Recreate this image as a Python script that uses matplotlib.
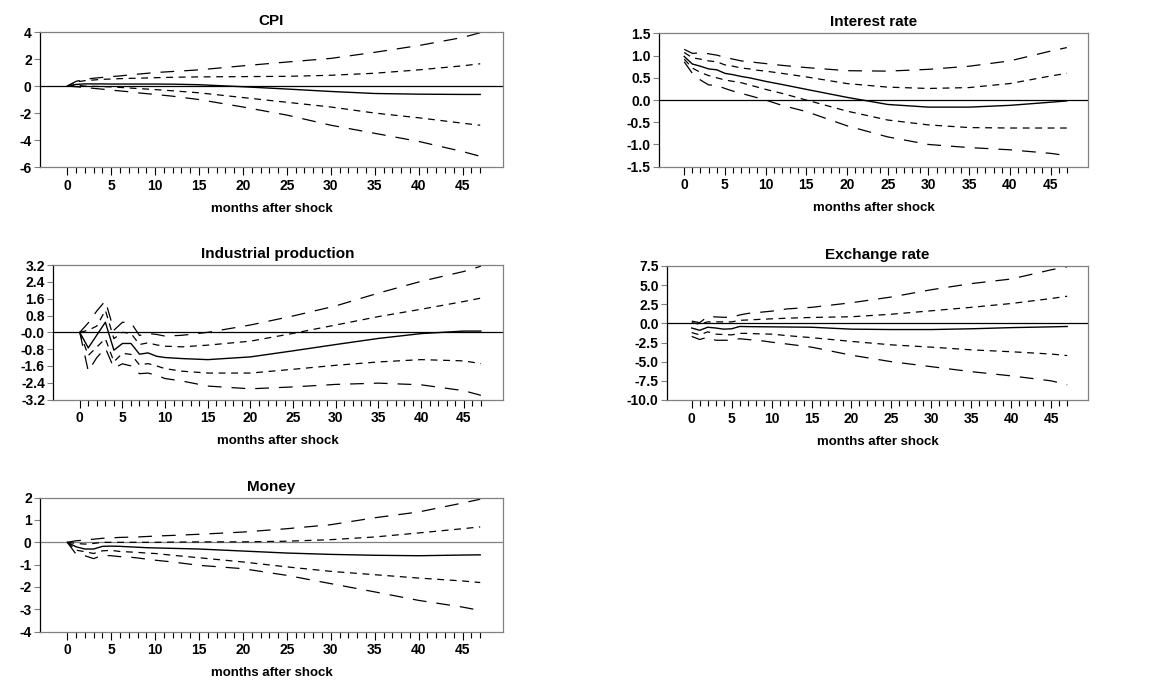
import matplotlib
matplotlib.use('Agg')
import matplotlib.pyplot as plt

MONTHS = [0, 1, 2, 3, 4, 5, 6, 7, 8, 9, 10, 12, 15, 20, 25, 30, 35, 40, 45, 47]

# CPI
cpi_median = [0, 0.12, 0.16, 0.16, 0.16, 0.15, 0.15, 0.15, 0.15, 0.15, 0.15, 0.14, 0.1, -0.05, -0.22, -0.4, -0.55, -0.6, -0.62, -0.62]
cpi_inner_hi = [0, 0.3, 0.4, 0.45, 0.5, 0.52, 0.55, 0.57, 0.58, 0.6, 0.62, 0.65, 0.68, 0.7, 0.72, 0.8, 0.95, 1.2, 1.5, 1.65]
cpi_outer_hi = [0, 0.35, 0.5, 0.58, 0.64, 0.7, 0.75, 0.82, 0.88, 0.94, 1.0, 1.08, 1.2, 1.5, 1.78, 2.05, 2.5, 3.0, 3.6, 3.95]
cpi_inner_lo = [0, 0.05, 0.0, -0.02, -0.04, -0.06, -0.1, -0.14, -0.18, -0.22, -0.26, -0.35, -0.5, -0.85, -1.2, -1.55, -2.0, -2.35, -2.75, -2.9]
cpi_outer_lo = [0, -0.05, -0.1, -0.17, -0.23, -0.3, -0.36, -0.42, -0.5, -0.56, -0.62, -0.75, -1.0, -1.55, -2.15, -2.9, -3.5, -4.1, -4.85, -5.2]

# Interest rate
ir_median = [0.98, 0.81, 0.76, 0.7, 0.68, 0.6, 0.57, 0.53, 0.5, 0.46, 0.42, 0.35, 0.24, 0.06, -0.1, -0.16, -0.16, -0.12, -0.05, -0.02]
ir_inner_hi = [1.07, 0.95, 0.92, 0.88, 0.86, 0.79, 0.76, 0.72, 0.7, 0.67, 0.65, 0.6, 0.52, 0.37, 0.29, 0.26, 0.28, 0.37, 0.54, 0.6]
ir_outer_hi = [1.14, 1.05, 1.06, 1.04, 1.01, 0.96, 0.92, 0.88, 0.86, 0.84, 0.82, 0.78, 0.73, 0.66, 0.65, 0.69, 0.76, 0.88, 1.1, 1.18]
ir_inner_lo = [0.92, 0.72, 0.62, 0.55, 0.5, 0.45, 0.42, 0.39, 0.34, 0.29, 0.24, 0.15, 0.0, -0.25, -0.45, -0.56, -0.62, -0.63, -0.63, -0.63]
ir_outer_lo = [0.86, 0.6, 0.45, 0.34, 0.33, 0.26, 0.2, 0.15, 0.1, 0.05, 0.0, -0.12, -0.26, -0.58, -0.83, -1.0, -1.07, -1.12, -1.2, -1.25]

# Industrial production
ip_median = [0, -0.74, -0.13, 0.48, -0.85, -0.53, -0.53, -1.04, -0.98, -1.14, -1.2, -1.25, -1.3, -1.17, -0.88, -0.58, -0.29, -0.06, 0.06, 0.06]
ip_inner_hi = [0, 0.1, 0.3, 1.05, -0.3, 0.0, -0.05, -0.58, -0.5, -0.6, -0.66, -0.69, -0.61, -0.42, -0.05, 0.35, 0.75, 1.1, 1.47, 1.63]
ip_outer_hi = [0, 0.45, 1.02, 1.5, 0.1, 0.48, 0.46, -0.15, -0.05, -0.1, -0.18, -0.14, 0.0, 0.35, 0.78, 1.26, 1.87, 2.43, 2.9, 3.15]
ip_inner_lo = [0, -1.1, -0.7, -0.3, -1.4, -1.0, -1.05, -1.55, -1.49, -1.6, -1.73, -1.85, -1.94, -1.94, -1.76, -1.57, -1.41, -1.3, -1.36, -1.49]
ip_outer_lo = [0, -1.85, -1.2, -0.75, -1.7, -1.5, -1.6, -1.97, -1.94, -2.05, -2.2, -2.32, -2.56, -2.69, -2.6, -2.48, -2.42, -2.5, -2.78, -3.0]

# Exchange rate
er_median = [-0.6, -0.9, -0.5, -0.6, -0.75, -0.7, -0.4, -0.42, -0.43, -0.44, -0.45, -0.47, -0.5, -0.75, -0.8, -0.8, -0.7, -0.55, -0.45, -0.4]
er_inner_hi = [0.1, -0.1, 0.2, 0.2, 0.2, 0.2, 0.4, 0.45, 0.5, 0.55, 0.6, 0.68, 0.78, 0.87, 1.2, 1.65, 2.1, 2.6, 3.25, 3.55]
er_outer_hi = [0.3, 0.1, 0.9, 0.85, 0.8, 0.8, 1.1, 1.3, 1.4, 1.5, 1.6, 1.9, 2.1, 2.7, 3.45, 4.4, 5.2, 5.8, 7.0, 7.4]
er_inner_lo = [-1.2, -1.5, -1.1, -1.4, -1.45, -1.5, -1.3, -1.3, -1.35, -1.38, -1.4, -1.6, -1.86, -2.35, -2.8, -3.1, -3.45, -3.7, -4.0, -4.2]
er_outer_lo = [-1.7, -2.1, -1.8, -2.2, -2.2, -2.2, -2.0, -2.1, -2.2, -2.3, -2.45, -2.7, -3.1, -4.15, -5.0, -5.65, -6.3, -6.85, -7.5, -8.0]

# Money
m_median = [0, -0.2, -0.3, -0.3, -0.18, -0.17, -0.18, -0.2, -0.22, -0.24, -0.25, -0.27, -0.3, -0.39, -0.48, -0.54, -0.58, -0.6, -0.57, -0.56]
m_inner_hi = [0, -0.05, -0.08, -0.05, 0.0, 0.0, 0.0, 0.0, 0.0, 0.0, 0.0, 0.01, 0.02, 0.02, 0.05, 0.12, 0.24, 0.42, 0.61, 0.69]
m_outer_hi = [0, 0.07, 0.1, 0.14, 0.18, 0.2, 0.22, 0.23, 0.24, 0.26, 0.28, 0.31, 0.36, 0.46, 0.61, 0.79, 1.1, 1.36, 1.76, 1.93]
m_inner_lo = [0, -0.35, -0.42, -0.5, -0.38, -0.36, -0.41, -0.43, -0.45, -0.48, -0.5, -0.58, -0.69, -0.88, -1.1, -1.3, -1.45, -1.6, -1.73, -1.8]
m_outer_lo = [0, -0.53, -0.6, -0.73, -0.58, -0.6, -0.64, -0.66, -0.7, -0.75, -0.8, -0.88, -1.03, -1.18, -1.48, -1.85, -2.22, -2.6, -2.9, -3.05]

# y tick labels of each panel
cpi_yticks = [4, 2, 0, -2, -4, -6]
ir_yticks = [1.5, 1.0, 0.5, 0.0, -0.5, -1.0, -1.5]
ip_yticks = [3.2, 2.4, 1.6, 0.8, 0.0, -0.8, -1.6, -2.4, -3.2]
ip_ylabels = ['3.2', '2.4', '1.6', '0.8', '-0.0', '-0.8', '-1.6', '-2.4', '-3.2']
er_yticks = [7.5, 5.0, 2.5, 0.0, -2.5, -5.0, -7.5, -10.0]
m_yticks = [2, 1, 0, -1, -2, -3, -4]

plt.rcParams['font.family'] = ['Liberation Sans Narrow', 'Liberation Sans', 'DejaVu Sans']
plt.rcParams['font.weight'] = 'bold'

SPINE_GRAY = '#808080'
OUTER_DASH = (0, (11, 8))
INNER_DASH = (0, (5.5, 4.5))


def fmt(v, decimals):
    if decimals == 0:
        return str(int(v))
    return f'{v:.{decimals}f}'


def plot_panel(ax, title, series, yticks, ylabels, zero_color='black'):
    median, inner_hi, outer_hi, inner_lo, outer_lo = series

    ax.axhline(0, color=zero_color, lw=0.9, zorder=1)
    ax.plot(MONTHS, outer_hi, color='black', lw=0.9, ls=OUTER_DASH)
    ax.plot(MONTHS, inner_hi, color='black', lw=0.9, ls=INNER_DASH)
    ax.plot(MONTHS, median, color='black', lw=1.0, ls='-')
    ax.plot(MONTHS, inner_lo, color='black', lw=0.9, ls=INNER_DASH)
    ax.plot(MONTHS, outer_lo, color='black', lw=0.9, ls=OUTER_DASH)

    ax.set_xlim(-3.1, 49.6)
    ax.set_ylim(min(yticks), max(yticks))
    ax.set_xticks(list(range(0, 46, 5)))
    ax.set_xticks(list(range(0, 48)), minor=True)
    ax.set_yticks(yticks)
    ax.set_yticklabels(ylabels)

    ax.tick_params(axis='x', which='major', direction='out', length=5.5, width=0.8,
                   labelsize=10, pad=3, color='black')
    ax.tick_params(axis='x', which='minor', direction='out', length=4, width=0.8, color='black')
    ax.tick_params(axis='y', direction='out', length=4, width=0.8, labelsize=10,
                   pad=2, color=SPINE_GRAY)
    for lab in ax.get_xticklabels() + ax.get_yticklabels():
        lab.set_fontweight('bold')

    for side in ['top', 'right', 'bottom']:
        ax.spines[side].set_color(SPINE_GRAY)
        ax.spines[side].set_linewidth(0.9)
    ax.spines['left'].set_color('black')
    ax.spines['left'].set_linewidth(0.9)

    ax.set_title(title, fontsize=11, fontweight='bold', pad=5)
    ax.set_xlabel('months after shock', fontsize=9.5, fontweight='bold', labelpad=7)


def main():
    fig = plt.figure(figsize=(11.74, 6.82), dpi=100)

    ax_cpi = fig.add_axes([0.0341, 0.755, 0.3944, 0.198])
    ax_ir = fig.add_axes([0.5613, 0.7556, 0.3654, 0.1955])
    ax_ip = fig.add_axes([0.0454, 0.4142, 0.3831, 0.197])
    ax_er = fig.add_axes([0.5681, 0.4135, 0.3586, 0.1965])
    ax_m = fig.add_axes([0.0341, 0.0738, 0.3944, 0.1965])

    plot_panel(ax_cpi, 'CPI',
               (cpi_median, cpi_inner_hi, cpi_outer_hi, cpi_inner_lo, cpi_outer_lo),
               cpi_yticks, [fmt(v, 0) for v in cpi_yticks])
    plot_panel(ax_ir, 'Interest rate',
               (ir_median, ir_inner_hi, ir_outer_hi, ir_inner_lo, ir_outer_lo),
               ir_yticks, [fmt(v, 1) for v in ir_yticks])
    plot_panel(ax_ip, 'Industrial production',
               (ip_median, ip_inner_hi, ip_outer_hi, ip_inner_lo, ip_outer_lo),
               ip_yticks, ip_ylabels)
    plot_panel(ax_er, 'Exchange rate',
               (er_median, er_inner_hi, er_outer_hi, er_inner_lo, er_outer_lo),
               er_yticks, [fmt(v, 1) for v in er_yticks])
    plot_panel(ax_m, 'Money',
               (m_median, m_inner_hi, m_outer_hi, m_inner_lo, m_outer_lo),
               m_yticks, [fmt(v, 0) for v in m_yticks], zero_color=SPINE_GRAY)

    fig.savefig('out.png', dpi=100)


if __name__ == '__main__':
    main()
